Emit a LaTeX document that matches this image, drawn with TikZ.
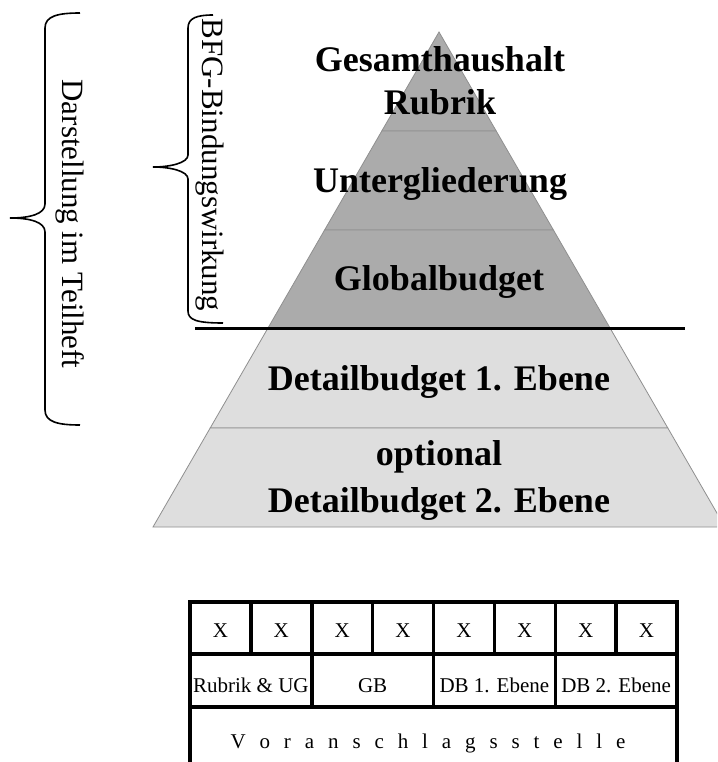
\documentclass[tikz,border=0pt]{standalone}
\usepackage{fontspec}
\setmainfont{Liberation Serif}
\usetikzlibrary{calc}
\definecolor{pyrdark}{HTML}{ABABAB}
\definecolor{pyrlight}{HTML}{DEDEDE}
\definecolor{pyredge}{HTML}{8F8F8F}
\begin{document}
\begin{tikzpicture}[x=1pt,y=-1pt,
  darklayer/.style={fill=pyrdark, draw=pyredge, line width=0.8pt},
  lightlayer/.style={fill=pyrlight, draw=pyredge, line width=0.8pt},
  pyrtext/.style={font=\fontsize{36}{43}\selectfont\bfseries, anchor=base, inner sep=0pt},
  sidetext/.style={font=\fontsize{31}{37}\selectfont, rotate=-90, anchor=base, inner sep=0pt},
  bracepath/.style={draw=black, line width=1.6pt},
  celltext/.style={font=\fontsize{21}{25}\selectfont, anchor=base, inner sep=0pt},
  gridline/.style={draw=black, line width=3.5pt},
  cutline/.style={draw=black, line width=3pt}]
\useasboundingbox (0,0) rectangle (717,762);
\clip (0,0) rectangle (717,762);

% pyramid
\coordinate (A) at (439,32);
\coordinate (BL) at (153,527);
\coordinate (BR) at (725,527);
\foreach \i/\t in {1/0.2,2/0.4,3/0.6,4/0.8}{
  \coordinate (L\i) at ($(A)!\t!(BL)$);
  \coordinate (R\i) at ($(A)!\t!(BR)$);
}
\path[darklayer] (A) -- (R1) -- (L1) -- cycle;
\path[darklayer] (L1) -- (R1) -- (R2) -- (L2) -- cycle;
\path[darklayer] (L2) -- (R2) -- (R3) -- (L3) -- cycle;
\path[lightlayer] (L3) -- (R3) -- (R4) -- (L4) -- cycle;
\path[lightlayer] (L4) -- (R4) -- (BR) -- (BL) -- cycle;

\node[pyrtext] (gh) at (440,72) {Gesamthaushalt};
\node[pyrtext] (rub) at (440,115) {Rubrik};
\node[pyrtext] (ug) at (440,192) {Untergliederung};
\node[pyrtext] (glob) at (439,290) {Globalbudget};
\node[pyrtext] (db1) at (439,390) {Detailbudget 1. Ebene};
\node[pyrtext] (opt) at (439,465) {optional};
\node[pyrtext] (db2) at (439,512) {Detailbudget 2. Ebene};

% cut line
\coordinate (cutL) at (195,328.5);
\coordinate (cutR) at (685,328.5);
\path[cutline] (cutL) -- (cutR);

% braces
\path[bracepath] (80,13) .. controls (58,13) and (45,16) .. (45,28) -- (45,204)
  .. controls (45,214) and (30,218) .. (10,218)
  .. controls (30,218) and (45,222) .. (45,232) -- (45,410)
  .. controls (45,422) and (58,425) .. (80,425);
\path[bracepath] (213,15) .. controls (197,15) and (188,18) .. (188,28) -- (188,155)
  .. controls (188,163) and (170,167) .. (153,167)
  .. controls (170,167) and (188,171) .. (188,179) -- (188,311)
  .. controls (188,320) and (197,323) .. (223,323);
\node[sidetext] (bfg) at (202,165) {BFG-Bindungswirkung};
\node[sidetext] (dar) at (62.5,224) {Darstellung im Teilheft};

% table
\foreach \i in {0,...,8}{
  \coordinate (c\i) at ({190+\i*60.875},0);
}
\coordinate (tTL) at (190,602);
\coordinate (tTR) at (677,602);
\coordinate (tBL) at (190,775);
\coordinate (tBR) at (677,775);
\path[gridline] (tBL) -- (tTL) -- (tTR) -- (tBR);
\path[gridline] (190,654) -- (677,654);
\path[gridline] (190,707) -- (677,707);
\foreach \i in {1,3,5,7}{
  \path[gridline] (c\i |- tTL) -- (c\i |- 654,654);
}
\foreach \i in {2,4,6}{
  \path[gridline] (c\i |- tTL) -- (c\i |- 707,707);
}
\foreach \i in {0,...,7}{
  \node[celltext] (x\i) at ({190+(\i+0.5)*60.875},637) {X};
}
\node[celltext] (r1) at ({190+1*60.875},692) {Rubrik \& UG};
\node[celltext] (r2) at ({190+3*60.875},692) {GB};
\node[celltext] (r3) at ({190+5*60.875},692) {DB 1. Ebene};
\node[celltext] (r4) at ({190+7*60.875},692) {DB 2. Ebene};
\node[celltext] (vst) at (428,748) {\spaceskip=13.9pt V o r a n s c h l a g s s t e l l e};
\end{tikzpicture}
\end{document}
